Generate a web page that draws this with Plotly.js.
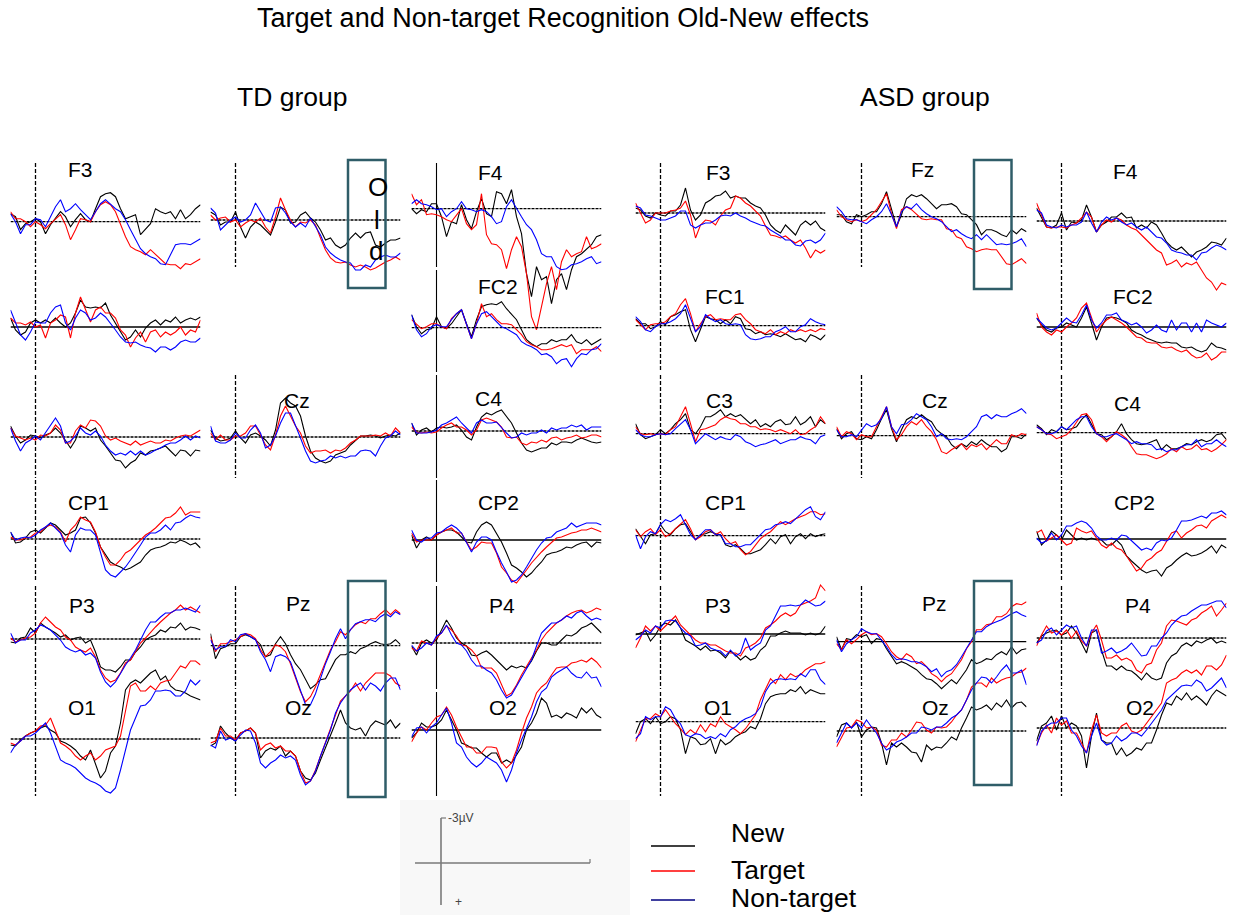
<!DOCTYPE html>
<html><head><meta charset="utf-8">
<script src="https://cdn.plot.ly/plotly-3.0.1.min.js"></script>
<style>html,body{margin:0;padding:0;background:#fff}#chart{width:1235px;height:915px}</style>
</head><body><div id="chart"></div>
<script>
// time axis (ms)
const TIMES = [-100,-80,-60,-40,-20,0,20,40,60,80,100,120,140,160,180,200,220,240,260,280,300,320,340,360,380,400,420,440,460,480,500,520,540,560,580,600,620,640,660];
const CONDITIONS = ['New','Target','Non-target'];
const COLORS = ['#000000','#ff0000','#0000ff'];

// ---------- TD group (µV, negative plotted up) ----------
const td_F3_new = [-0.8,-0.5,0.8,0.2,0,-0.3,0,1.2,0.3,-0.3,-1.0,-0.5,0.5,-0.2,-0.8,-0.2,0,-1.3,-2.5,-2.8,-2.9,-2.5,-1.3,-0.3,-0.5,-0.7,1.3,0.8,0.2,-1.3,-1.0,-0.8,-1.0,-0.3,-1.2,-0.3,-0.7,-1.3,-1.7];
const td_F3_target = [-1.0,-0.3,-0.3,0,0.5,0,0.3,0.7,0.2,-0.3,-0.7,0.3,1.8,0.8,-0.3,-0.2,0,-1.0,-1.7,-2.0,-1.7,-1.0,0.3,1.5,2.5,2.8,3.0,3.3,2.8,3.3,3.8,4.2,4.3,4.3,4.7,4.2,4.3,4.0,3.7];
const td_F3_non = [-0.8,0,1.2,0.3,0.3,-0.3,-0.2,0.5,-0.5,-1.5,-2.2,-1.0,-1.3,-1.8,-1.2,-0.7,-0.2,-1.0,-1.8,-2.2,-1.7,-1.3,-1.0,-0.2,0.8,1.7,2.7,3.2,3.5,3.7,4.2,4.3,3.3,2.3,2.2,2.2,2.3,2.0,1.7];
const td_Fz_new = [-0.8,-0.5,0.5,0.2,0.2,-0.8,0.7,1.8,0.7,0.2,0.5,1.0,1.5,0.2,-1.3,-1.0,0.3,0.2,-0.5,-0.8,-0.2,0.2,1.0,2.0,1.8,2.5,2.8,2.5,1.8,1.3,1.8,1.3,1.2,2.5,2.7,2.3,2.0,2.0,1.8];
const td_Fz_target = [-0.5,0,-0.2,-0.3,0.2,0,0.7,0.3,0,0.2,-0.2,0.7,1.3,-0.3,-2.2,-1.0,0,0.7,0.2,0.3,0,0.5,1.8,3.0,3.8,4.2,4.3,4.2,4.5,4.7,4.5,4.7,5.0,4.8,4.5,4.2,4.0,3.7,4.0];
const td_Fz_non = [-1.2,-0.7,1.0,0.5,0,-0.3,0.2,0,-0.5,-1.7,-0.8,0,0.2,-1.2,-1.3,-0.7,0.2,0.7,0.3,0.7,-0.2,0.7,1.5,2.7,3.3,3.7,4.0,4.2,4.3,5.0,5.0,4.5,4.7,4.0,3.7,3.5,3.7,3.7,3.3];
const td_F4_new = [0,0.5,0.1,0.3,-0.5,-0.5,0.8,2.8,1.3,1.5,-0.4,1.1,2.0,0.3,-1.0,0.5,0.8,-1.7,-1.5,-0.5,-1.9,0.8,2.5,6.5,8.8,5.8,7.1,6.8,9.5,7.1,6.5,8.1,6.1,4.8,4.5,4.0,3.6,2.8,2.6];
const td_F4_target = [-1.5,-0.4,-0.9,0.6,0.5,0.6,0.8,1.1,1.3,0.6,0,1.5,2.1,1.6,-1.5,2.6,3.5,3.6,4.1,6.0,4.1,2.8,3.8,6.5,10.8,12.1,9.8,7.5,5.8,8.1,5.3,4.1,4.8,4.5,4.3,2.8,4.0,3.8,3.5];
const td_F4_non = [-0.5,-0.9,-0.5,-0.4,-0.2,0.1,0,0.8,0.3,0,-0.7,0,0.1,0.3,0.1,0.3,0.8,1.5,1.3,-0.2,-0.9,0,0.8,1.6,2.1,3.1,4.5,4.8,4.8,5.8,6.1,6.0,5.6,5.5,5.3,5.0,4.8,5.5,5.3];
const td_FC1_new = [-0.9,0.3,0.8,0.5,-0.4,-0.7,-0.4,-0.7,-0.4,-0.9,-0.4,0,-0.4,-1.4,-2.7,-2.0,-1.9,-2.0,-1.9,-2.4,-1.2,-0.4,0.5,1.3,1.0,0.3,1.0,0.1,-0.4,-0.7,-0.2,-0.7,-0.5,-1.0,-0.4,-0.7,-0.9,-0.7,-1.0];
const td_FC1_target = [-0.9,-0.4,-0.4,-0.2,-0.5,0,-0.2,1.1,-0.4,-0.7,-1.2,-1.0,1.1,-1.4,-3.0,-1.7,-0.5,-1.7,-2.0,-1.4,-1.4,-0.9,0.3,0.8,2.0,1.1,0.5,1.5,0.5,0.3,1.0,0.5,0.8,0.5,0,0.8,0.3,0.5,-0.7];
const td_FC1_non = [-1.7,-0.4,0.8,1.3,0.5,-0.5,-0.4,-0.4,-1.4,-2.0,-2.2,-0.4,0.3,-0.9,-1.7,-1.4,-0.7,-0.9,-1.4,-1.0,-0.4,0.3,1.0,1.5,1.6,1.5,1.8,2.0,2.1,2.5,2.0,2.0,2.3,2.0,1.5,1.3,1.5,1.5,1.1];
const td_FC2_new = [-1.3,-0.1,0.6,0.2,0.1,-1.1,-0.1,0.1,-0.4,-1.1,-1.8,-0.4,0.9,-0.8,-2.1,-2.3,-2.4,-2.3,-2.6,-1.9,-1.4,-0.8,0.2,1.2,1.6,1.9,1.6,1.6,1.2,1.4,1.2,1.2,0.7,1.4,1.6,1.2,1.7,1.4,1.1];
const td_FC2_target = [-0.8,-0.3,0.1,-0.1,-0.4,-0.4,-0.1,0.1,-0.9,-1.4,-1.8,-0.3,1.1,-0.4,-2.4,-1.1,-1.4,-0.8,-0.4,-0.4,-0.3,0.2,0.7,1.4,1.7,1.9,2.2,2.2,2.1,1.9,1.7,1.9,1.7,2.6,2.2,2.2,2.2,1.9,2.4];
const td_FC2_non = [-1.3,0.2,0.9,0.6,-0.1,-0.3,-0.1,-0.1,-0.8,-1.4,-1.8,-0.4,1.1,-0.4,-1.4,-1.6,-1.1,-0.6,-0.1,0.1,0.4,0.7,1.4,1.7,1.9,2.2,2.7,2.6,2.9,3.6,3.2,3.1,3.9,3.1,2.6,2.7,2.2,2.1,1.6];
const td_C3_new = [-1.1,-0.1,0.6,0.3,-0.2,-0.1,0.1,-0.2,-0.4,-0.9,-0.4,0.4,1.1,0.3,-1.1,-0.9,-0.6,-0.9,0.3,0.9,1.6,2.3,2.4,3.1,2.6,2.3,1.6,1.8,1.4,1.3,1.1,0.9,1.4,1.9,1.3,1.4,1.9,1.3,1.4];
const td_C3_target = [-0.9,-0.1,0.1,0.3,0.1,0.3,-0.2,-0.1,-0.4,-1.2,-0.7,0.6,0.6,-0.6,-1.2,-0.9,-1.7,-1.6,-1.1,-0.1,0.3,0.1,0.4,0.6,0.8,0.4,0.8,0.6,0.4,0.6,0.6,0.3,0.4,0.1,-0.1,-0.2,-0.1,-0.4,-0.7];
const td_C3_non = [-0.9,0.4,1.4,0.6,0.3,-0.1,0.3,-0.4,-1.1,-1.9,-1.1,0.6,0.4,-0.1,-0.9,-0.4,-0.2,-0.6,-0.1,0.8,1.4,1.8,1.6,1.8,1.4,1.8,1.4,1.8,1.6,1.3,1.1,0.8,0.6,0.6,0.3,-0.1,0.3,-0.1,0.1];
const td_Cz_new = [-0.7,0.1,0.4,0.3,0.1,-0.6,0.1,0.6,-0.2,-0.4,-0.1,0.3,0.9,-0.7,-3.4,-3.9,-3.4,-3.1,-2.1,-0.1,1.4,2.1,2.4,2.6,2.4,1.8,1.6,1.4,0.8,0.3,-0.1,-0.1,-0.2,-0.1,0.1,-0.1,-0.2,-0.1,-0.4];
const td_Cz_target = [-0.4,0.3,-0.2,0.3,0.3,-0.1,-0.1,-0.4,-1.1,-1.1,-0.2,0.8,1.3,-0.2,-2.1,-3.1,-2.1,-1.1,-0.4,0.9,1.6,1.4,1.4,1.3,1.6,1.3,1.4,1.1,0.6,0.3,-0.1,-0.1,-0.1,-0.2,-0.1,-0.4,-0.1,-0.9,-0.4];
const td_Cz_non = [-1.1,0.4,0.6,0.6,0.3,-0.4,0.1,0.1,-0.7,-1.2,-0.4,1.1,0.8,-0.1,-1.4,-2.4,-2.4,-1.2,0.1,1.4,2.4,2.6,2.4,2.3,1.9,2.1,1.9,2.1,1.9,1.9,1.4,1.3,1.4,1.9,0.9,0.1,-0.1,-0.6,-0.2];
const td_C4_new = [-0.8,0.4,-0.1,-0.3,0.1,-0.3,-0.4,-0.3,-0.4,-0.6,-0.1,0.6,0.9,-0.4,-1.4,-1.8,-1.6,-1.9,-2.1,-1.4,-0.8,0.2,1.2,1.9,2.1,1.9,1.7,1.7,1.2,1.4,1.1,1.1,1.2,0.9,0.7,0.9,1.1,1.2,1.1];
const td_C4_target = [-0.4,0.1,0.2,0.1,0.2,0.1,-0.3,-0.6,-0.8,-0.4,-0.4,-0.1,0.4,-0.1,-1.1,-1.3,-1.1,-0.9,-0.4,0.6,0.7,0.6,1.2,1.4,1.1,1.2,0.9,1.1,0.7,0.6,0.9,0.7,0.6,0.4,0.7,0.6,0.4,0.4,0.6];
const td_C4_non = [-0.8,0.2,0.2,0.2,0.1,-0.1,-0.6,-0.8,-1.1,-1.4,-0.8,-0.3,0.2,-0.8,-1.1,-0.8,-0.8,-0.9,-0.3,0.2,0.7,0.6,0.2,0.4,0.2,0.2,-0.1,0.2,-0.3,-0.1,-0.3,-0.3,-0.6,-0.4,-0.6,-0.1,-0.4,-0.4,-0.4];
const td_CP1_new = [-0.7,0.4,0.3,-0.1,-0.7,-0.9,-0.6,-1.1,-1.6,-1.4,-0.9,-0.4,-0.6,-0.9,-2.1,-2.2,-1.6,-0.6,0.8,1.6,2.3,2.6,2.8,3.1,2.9,2.6,2.3,1.6,1.1,0.9,0.8,0.6,0.3,0.4,0.1,0.3,0.6,0.4,0.9];
const td_CP1_target = [-0.2,0.1,0.1,-0.1,-0.2,-0.6,-0.7,-1.2,-1.4,-1.2,-0.7,0.3,-0.9,-1.4,-2.2,-1.9,-1.7,-0.7,0.8,1.8,2.6,2.6,2.1,1.4,1.1,0.6,0.1,-0.4,-0.7,-1.1,-1.6,-2.1,-2.2,-2.6,-3.2,-2.4,-2.7,-2.7,-2.7];
const td_CP1_non = [-0.7,0.1,-0.1,-0.2,-0.1,-0.4,-0.9,-1.2,-1.6,-1.1,-0.6,0.6,1.3,-0.4,-1.1,-0.9,-0.9,-0.4,1.4,3.1,3.6,3.8,3.3,2.8,2.1,1.4,0.6,-0.2,-0.6,-0.6,-0.9,-1.4,-0.9,-1.6,-1.7,-2.1,-2.4,-2.2,-2.1];
const td_CP2_new = [-0.5,0.8,0,-0.3,0,-0.5,-0.8,-1.0,-1.0,-0.8,-0.3,0.2,0.3,-0.8,-1.5,-1.8,-1.5,-0.7,0.2,1.3,2.5,2.8,3.2,3.7,3.3,2.7,2.2,1.5,1.3,1.2,1.0,0.7,0.8,0.5,0.3,0.2,0.7,0.2,0.3];
const td_CP2_target = [-0.7,0.2,0,0,0,-0.5,-0.8,-1.0,-1.2,-0.7,-0.7,0.2,1.0,0.7,0.2,0.3,0.3,1.3,2.7,3.3,4.0,4.3,3.7,3.0,2.3,1.7,1.2,0.7,0.2,-0.2,-0.3,-0.5,-0.7,-0.8,-1.0,-1.0,-1.2,-1.0,-0.8];
const td_CP2_non = [-1.0,0,0.2,-0.2,-0.2,-0.7,-0.8,-1.2,-1.5,-1.2,-0.7,0.2,1.2,0.2,-0.3,-0.3,0,1.2,2.3,3.2,4.2,4.0,3.5,2.7,1.8,1.0,0.3,-0.2,-0.3,-0.8,-1.0,-1.2,-1.7,-1.3,-1.5,-1.7,-1.7,-1.7,-1.5];
const td_P3_new = [0.3,0.4,-0.1,-0.2,-1.1,-0.6,-1.6,-1.2,-0.9,-0.6,-0.2,-0.4,0.1,-0.1,-0.2,0.4,0.1,1.3,2.8,3.1,3.1,3.3,2.8,2.1,2.1,1.3,0.8,0.1,-0.2,-0.4,-0.9,-0.7,-1.2,-1.1,-1.6,-0.9,-1.2,-1.1,-0.9];
const td_P3_target = [-0.1,0.3,0.1,-0.1,-0.2,-0.6,-1.6,-2.2,-1.7,-1.2,-0.9,-0.2,0.1,0.8,1.1,1.3,0.9,1.8,3.1,3.9,4.3,4.1,3.4,2.4,2.1,1.3,0.4,-0.1,-0.7,-1.2,-1.7,-2.2,-2.6,-2.9,-3.4,-2.9,-3.2,-2.9,-2.6];
const td_P3_non = [-0.6,0.4,0.1,0.1,-0.6,-0.9,-1.4,-1.2,-0.9,-0.4,0.1,0.8,1.1,1.3,1.1,1.6,1.4,1.9,3.3,4.3,4.8,4.3,3.4,2.6,1.9,1.1,0.1,-0.9,-1.7,-1.7,-2.2,-2.6,-2.6,-2.9,-2.9,-3.1,-2.9,-2.7,-3.4];
const td_Pz_new = [-1.2,1.3,0.3,0.1,-0.2,-0.2,-0.9,-1.1,-0.9,-0.6,-0.1,1.1,0.9,-0.2,-0.9,-0.2,0.9,1.8,2.4,3.4,4.3,3.9,3.4,3.3,2.4,1.4,0.9,0.9,0.6,0.8,0.3,0.1,-0.2,-0.4,-0.2,-0.1,-0.2,-0.6,-0.1];
const td_Pz_target = [-0.9,0.6,-0.2,-0.2,-0.4,-0.6,-0.9,-1.2,-1.1,-0.7,0.4,1.1,0.6,-0.1,0.1,0.6,1.8,3.1,4.6,5.6,5.1,4.1,2.8,1.6,0.4,-0.4,-1.4,-1.1,-1.6,-2.1,-2.4,-2.2,-2.7,-2.7,-3.2,-3.6,-3.1,-3.6,-3.2];
const td_Pz_non = [-0.6,0.4,0.1,0.1,-0.6,-0.4,-1.1,-1.2,-0.9,-0.6,0.6,1.4,2.6,1.1,0.9,1.1,1.6,3.1,4.6,5.9,5.9,4.8,3.3,1.8,0.6,-0.7,-1.7,-0.7,-1.6,-2.2,-2.4,-2.6,-2.6,-2.4,-2.9,-3.2,-2.9,-3.4,-3.1];
const td_P4_new = [0.3,1.2,0,-0.3,0,-0.3,-1.3,-2.3,-1.5,-0.5,0,0.3,1.2,1.3,1.0,0.8,1.2,1.7,2.3,2.7,2.3,2.5,2.3,2.5,1.8,0.8,0,0,0.2,0.2,-0.3,-0.8,-0.7,-1.0,-1.5,-1.7,-2.0,-1.5,-1.0];
const td_P4_target = [0.5,0.8,-0.2,0,0.2,-0.5,-1.0,-1.7,-1.3,-0.7,0.2,0.3,0.7,1.3,2.5,2.5,2.5,3.0,4.2,5.3,5.0,4.2,3.2,2.3,1.5,0.7,-0.3,-1.0,-1.5,-2.0,-2.3,-2.7,-3.0,-3.2,-3.3,-3.0,-3.2,-3.5,-3.3];
const td_P4_non = [0.2,0.8,0.5,0,0.2,-0.7,-1.0,-1.8,-0.8,0,0.2,0.8,1.7,2.3,2.3,2.7,3.0,3.7,4.7,5.5,5.2,4.3,3.5,2.5,1.7,0.3,-1.0,-1.5,-2.0,-2.0,-2.3,-2.7,-2.5,-3.0,-3.2,-2.7,-2.3,-2.5,-2.3];
const td_O1_new = [0.6,0.7,0.1,-0.3,-0.6,-0.8,-1.1,-1.3,-0.9,-0.6,0.2,0.4,0.7,1.1,1.7,2.1,1.1,2.4,3.9,3.2,1.4,0.7,-1.6,-4.9,-5.6,-5.9,-5.6,-6.1,-6.6,-6.9,-5.9,-6.3,-5.3,-4.9,-4.8,-4.6,-4.3,-4.1,-3.9];
const td_O1_target = [0.4,0.6,0.2,-0.3,-0.6,-0.8,-1.3,-1.4,-2.1,-0.9,0.4,0.7,1.1,1.7,2.1,1.7,1.4,2.1,1.7,1.1,0.9,0.7,-0.3,-2.9,-5.3,-5.6,-4.8,-4.8,-5.3,-4.9,-5.6,-5.8,-5.9,-6.6,-7.3,-7.1,-7.8,-7.8,-7.4];
const td_O1_non = [1.4,0.6,0.2,-0.3,-0.3,-0.6,-1.1,-1.6,-0.6,0.7,2.1,2.4,2.6,2.9,3.4,3.9,4.2,4.4,4.7,5.2,5.4,4.9,3.1,1.1,-0.9,-2.1,-3.3,-3.4,-3.9,-4.8,-4.8,-4.9,-4.8,-4.3,-4.3,-4.8,-5.9,-5.4,-5.9];
const td_Oz_new = [0.8,0.5,-1.2,-0.5,0,0.3,-0.5,-0.7,-1.0,-0.5,2.0,1.3,1.0,1.2,0.8,1.8,1.3,1.8,3.3,4.0,4.2,3.5,2.2,1.0,-0.2,-1.5,-2.8,-1.5,-1.0,-0.8,-1.0,-0.2,-1.2,-1.7,-1.5,-1.3,-1.8,-1.0,-1.5];
const td_Oz_target = [0.5,0.3,-1.0,-0.2,-0.2,0.2,-0.5,-0.7,-1.0,-0.5,1.2,0.7,0.5,1.0,0.8,1.3,1.3,1.8,3.3,4.5,4.3,3.2,1.8,0.5,-1.0,-2.3,-3.7,-4.2,-4.7,-5.5,-4.7,-5.5,-6.0,-6.5,-6.5,-6.5,-6.2,-5.5,-5.2];
const td_Oz_non = [0.7,1.0,-0.7,0.2,0,0.3,-0.3,-0.8,-0.7,0.5,2.5,3.0,2.5,2.2,1.7,2.0,1.8,2.2,3.7,4.7,4.3,3.3,1.8,0.5,-0.8,-2.5,-3.5,-4.2,-4.8,-5.2,-5.5,-4.8,-5.5,-5.2,-4.7,-5.5,-6.0,-6.0,-4.8];
const td_O2_new = [0.8,0.3,-0.7,-0.3,-0.3,-0.5,-1.0,-2.0,-1.0,0,1.3,1.5,1.8,1.8,2.3,2.7,2.3,2.3,3.3,3.0,3.3,2.5,1.7,0,-0.7,-1.7,-3.2,-2.7,-1.3,-1.5,-1.2,-1.7,-1.5,-1.2,-2.2,-1.7,-2.2,-1.5,-1.2];
const td_O2_target = [1.2,0.3,-0.3,0,-0.7,-1.3,-1.5,-2.3,-1.5,-0.3,0.7,1.7,1.7,2.3,2.3,1.7,1.7,1.8,3.2,3.8,3.3,2.0,0.3,-1.2,-2.3,-3.7,-4.3,-4.7,-5.5,-6.2,-6.3,-6.3,-6.7,-6.8,-7.0,-6.8,-7.2,-6.8,-6.2];
const td_O2_non = [0.7,-0.2,-0.3,0.3,-0.3,-0.7,-1.5,-2.2,-0.7,1.3,1.7,2.7,3.3,3.7,3.3,2.7,3.0,3.3,4.0,5.2,4.0,2.3,1.0,-0.2,-1.3,-2.8,-3.8,-4.2,-5.3,-5.7,-6.0,-6.3,-5.7,-5.3,-5.2,-5.8,-5.2,-5.3,-4.3];

// ---------- ASD group ----------
const asd_F3_new = [-0.5,-0.3,0.3,0.5,0,0.2,0.3,-0.2,-0.2,-0.8,-2.5,-0.3,0.7,0.2,-1.0,-1.3,-1.7,-1.8,-2.2,-1.5,-1.7,-1.5,-1.5,-1.0,-0.7,-0.5,0.2,1.2,1.7,2.0,1.2,1.7,2.2,1.2,0.8,1.2,0.8,1.5,1.8];
const asd_F3_target = [-1.0,0,1.0,0.7,0,0,0,-0.2,-0.3,-0.5,-1.2,0.2,2.5,1.2,0.7,0.8,1.2,0.3,-0.3,-0.5,-1.7,-1.5,-1.0,-0.7,-0.2,0.3,1.3,2.2,2.3,2.5,2.3,2.7,3.0,2.7,3.5,4.5,3.7,4.0,3.7];
const asd_F3_non = [-0.7,-0.5,0.2,0.3,0.5,0.7,0.7,0.5,0.3,-0.2,-0.2,1.2,1.5,1.2,1.0,1.0,0.7,0.3,0.2,0.3,0,0.3,0.5,0.8,1.0,1.2,1.3,1.7,2.0,2.3,2.7,2.7,3.2,3.3,2.8,2.7,3.0,2.7,2.0];
const asd_Fz_new = [-0.2,-0.2,0.5,0.7,-0.2,0,-0.2,-0.5,-0.5,-1.3,-2.5,-0.7,1.0,-0.2,-1.8,-2.2,-2.0,-2.2,-1.8,-1.3,-0.8,-1.2,-1.2,-1.3,-1.0,-0.3,-0.2,0.3,0.8,1.8,1.3,1.3,1.5,1.8,2.0,1.3,1.7,1.2,1.5];
const asd_Fz_target = [-0.7,0,0.3,0.5,0.3,0.5,0.3,-0.2,-0.7,-1.5,-2.3,-0.3,1.2,-0.7,-1.0,-0.7,-0.2,0.2,0.3,0.2,0.3,0.3,1.2,1.3,2.0,2.2,3.0,3.2,3.5,3.3,3.2,3.3,3.3,4.0,4.7,4.8,4.5,4.2,4.7];
const asd_Fz_non = [-1.0,-0.5,0.2,0.3,0.3,0.5,0.7,0.3,0,-0.5,-1.3,-0.2,1.0,-0.5,-1.0,-0.8,-1.3,-0.7,-0.3,0,0.2,0.5,1.0,1.5,1.3,1.7,2.0,2.2,1.8,2.3,1.8,2.3,2.8,2.7,2.8,2.7,2.5,2.2,3.0];
const asd_F4_new = [-1.3,-0.3,0.6,0.7,0.4,-0.8,0.9,0.1,0.2,-0.1,-1.6,-0.4,1.1,0.4,0.1,-0.4,-0.4,-0.8,-0.3,-0.4,0.7,0.4,0.7,0.1,0.4,1.2,2.1,2.6,2.9,2.6,3.1,3.6,3.1,2.9,2.6,2.1,2.2,2.4,1.7];
const asd_F4_target = [-1.8,-0.6,0.6,0.7,0.6,0.6,0.7,0.4,0.2,-0.3,-0.9,-0.4,1.1,0.4,-0.1,0.1,-0.3,-0.1,0.4,0.7,0.9,1.4,1.9,2.4,2.9,3.2,4.4,4.2,3.9,4.6,4.2,4.4,4.1,4.9,5.7,6.1,6.9,6.2,6.4];
const asd_F4_non = [-1.1,-0.8,0.4,0.6,0.7,0.4,0.6,0.4,0.4,0.1,-0.9,0.2,1.1,0.1,-0.4,-0.1,-0.3,0.1,0.4,0.2,0.6,0.9,0.6,1.1,1.6,1.7,2.2,2.9,3.1,3.2,3.4,3.4,3.9,3.2,3.1,2.7,2.4,2.6,2.9];
const asd_FC1_new = [-0.7,-0.2,-0.2,0.3,0.1,-0.4,-0.1,-0.9,-1.1,-1.4,-1.6,0.4,1.6,0.4,-0.9,-0.7,-0.6,-0.2,-0.6,-0.2,-0.9,-0.7,0.3,0.4,0.8,0.6,0.9,0.8,0.9,1.1,0.8,1.1,1.4,1.3,1.6,0.9,1.1,1.4,0.9];
const asd_FC1_target = [-0.6,-0.1,0.4,-0.1,-0.2,-0.2,-0.4,-0.9,-1.2,-2.1,-2.7,-1.2,0.6,-0.2,-0.9,-1.1,-0.6,-0.7,-0.6,-0.6,-1.1,-1.2,-0.6,-0.2,0.4,0.6,0.8,0.4,0.9,0.6,0.8,0.4,0.6,0.4,0.6,0.4,0.6,0.3,0.4];
const asd_FC1_non = [-0.9,-0.4,0.4,0.6,0.1,-0.2,-0.2,-0.4,-0.7,-1.2,-2.1,-0.7,0.6,0.1,-1.1,-0.7,-0.4,-0.6,-0.2,-0.1,-0.2,-0.1,0.9,1.3,1.4,1.3,1.1,1.1,0.6,0.4,0.1,0.6,0.6,0.1,-0.1,-0.7,-0.4,-0.2,-0.1];
const asd_FC2_new = [-0.9,-0.2,0.3,0.5,0.1,0,-0.4,-0.2,0,-0.9,-2.0,-0.4,1.3,0,-0.9,-1.0,-0.9,-0.7,-0.4,0.3,0.6,0.8,1.1,1.3,1.5,1.6,1.5,1.6,1.6,2.0,2.1,2.0,2.3,2.5,2.3,1.6,2.0,2.1,2.3];
const asd_FC2_target = [-1.4,0,0.5,0.8,0.3,0.5,0,-0.4,-0.9,-1.9,-2.4,-0.9,0.5,-0.2,-0.7,-1.0,-0.7,-0.4,0,0.5,1.0,1.1,1.5,1.6,1.6,2.0,2.1,2.0,2.3,2.5,2.3,2.8,3.1,3.0,2.6,3.3,3.0,2.5,2.5];
const asd_FC2_non = [-0.9,-0.4,0.1,0.3,0.1,-0.4,-0.9,-0.5,-0.4,-1.2,-2.2,-0.7,0.1,-0.4,-1.2,-1.2,-1.4,-0.7,-0.5,-0.2,-0.4,0,0.6,0.3,-0.2,0.3,0.5,-0.7,0.3,-0.4,-0.4,0.5,-0.4,0.5,-0.7,-0.4,-0.2,0,-0.4];
const asd_C3_new = [-1.0,0.1,0.5,0.3,0.1,-0.4,0,-0.4,-1.0,-1.4,-2.0,-0.4,0,-0.7,-1.7,-1.7,-2.0,-2.4,-1.7,-2.0,-1.7,-1.9,-1.4,-1.0,-1.4,-0.7,-1.0,-0.7,-1.2,-1.4,-0.9,-1.0,-1.7,-0.9,-1.2,-1.7,-0.7,-1.4,-1.0];
const asd_C3_target = [-0.7,0,0.1,0,0.1,0,0.1,-0.4,-0.7,-1.7,-2.7,-1.0,0.8,-0.4,-0.5,-0.7,-0.9,-1.4,-1.7,-1.5,-1.4,-1.0,-1.0,-0.7,-0.7,-0.4,-0.5,-0.4,-0.2,-0.4,-0.2,0,-0.4,0.1,0,-0.4,-0.7,-1.7,-1.0];
const asd_C3_non = [-0.4,0.1,0.3,0.3,0.1,0,0.1,0,-0.5,-1.0,-1.4,-0.4,1.0,0.5,0,0.3,0.6,0.3,0.5,0.6,0.1,0.3,0.8,1.0,1.3,1.1,1.0,0.8,0.6,1.0,0.8,0.6,0.6,0.3,0.5,0.6,1.0,0.3,0.1];
const asd_Cz_new = [-0.7,0.3,-0.2,-0.4,0.3,0.4,0.1,0.3,-0.6,-1.7,-2.6,-0.7,0.6,-0.6,-1.6,-1.9,-1.7,-2.1,-1.7,-1.4,-0.6,-0.2,0.1,0.9,1.3,0.8,1.1,0.6,0.9,0.4,0.8,1.1,1.1,1.6,1.3,0.1,0.1,0.3,-0.2];
const asd_Cz_target = [-0.9,0.1,-0.4,-0.2,0.4,-0.1,0.1,0.1,-0.9,-1.9,-2.9,-0.9,0.4,-0.1,-0.9,-1.4,-1.1,-1.6,-0.9,-0.4,0.4,1.6,1.8,1.4,1.1,0.8,1.4,0.9,1.1,0.8,1.4,0.9,0.4,0.8,0.8,-0.1,0.1,-0.2,-0.1];
const asd_Cz_non = [-0.6,0.1,0.1,-0.1,0.1,-0.6,-1.2,-0.9,-1.1,-1.7,-2.9,-0.9,-0.2,-1.1,-1.2,-1.6,-2.2,-1.9,-1.6,-0.9,0.1,-0.2,0.3,0.4,0.3,0.4,0.1,-0.4,-0.9,-1.9,-2.1,-1.7,-2.1,-1.9,-1.9,-2.2,-2.4,-2.7,-2.2];
const asd_C4_new = [-0.8,-0.4,0.2,-0.3,-0.1,-0.6,-0.3,-0.4,-0.6,-1.3,-1.8,-0.8,0.1,0.2,0.7,0.4,-0.1,-0.9,0.1,0.7,1.1,1.2,1.1,0.9,0.7,1.7,1.2,1.6,1.6,1.4,1.1,1.2,0.9,0.7,0.9,0.7,0.2,0.1,0.7];
const asd_C4_target = [-0.6,-0.3,0.1,0.2,0.6,0.4,0.2,-0.3,-1.1,-1.8,-1.9,-1.3,0.1,0.4,0.9,0.4,-0.1,0.2,0.6,1.4,2.1,2.2,2.2,2.4,2.6,2.4,2.1,1.6,1.9,1.4,1.7,1.6,1.2,1.7,1.6,1.9,1.6,1.2,0.7];
const asd_C4_non = [-0.6,-0.3,0.1,0.1,-0.1,-0.6,-0.3,-0.8,-1.3,-1.6,-1.6,-0.6,0.1,0.4,0.4,0.2,0.1,0.4,0.7,1.1,0.9,1.1,1.1,1.2,1.7,1.6,1.9,1.7,1.7,1.4,1.2,1.2,0.7,1.4,1.1,1.1,0.7,1.1,1.4];
const asd_CP1_new = [-0.7,0.1,0.8,-0.1,-0.2,-1.1,-0.4,-0.1,-0.7,-1.1,-1.2,-0.4,0.4,-0.1,-0.2,-0.4,-0.2,-0.1,0.9,1.1,0.9,1.3,1.8,1.8,1.6,1.4,0.9,0.3,0.8,0.1,-0.1,0.8,0.1,-0.2,0.3,-0.2,0.1,-0.1,-0.2];
const asd_CP1_target = [-0.6,0.1,-0.4,-0.7,-0.1,-0.6,0.1,-0.2,-0.7,-1.2,-1.6,-0.7,0.4,0.1,-0.4,-0.6,-0.1,-0.4,0.3,0.8,0.6,1.4,1.9,1.6,0.9,0.3,-0.1,-0.4,-0.9,-1.4,-1.1,-1.4,-1.7,-1.9,-2.1,-2.4,-2.4,-2.1,-2.2];
const asd_CP1_non = [-0.1,1.3,0.1,-0.4,-0.2,-1.1,-1.6,-1.4,-1.7,-2.1,-1.1,-0.1,0.4,-0.1,-0.6,-0.6,-0.1,-0.1,0.8,0.8,1.1,1.1,0.9,0.9,0.4,-0.1,-0.6,-0.7,-1.1,-1.2,-1.4,-1.2,-1.7,-2.2,-2.6,-2.9,-1.9,-1.6,-2.4];
const asd_CP2_new = [-0.8,0.6,0.1,-0.8,-0.4,0.1,-0.9,-0.4,0.1,-0.1,0.1,-0.1,0.1,0.1,0.6,0.6,0.1,0.6,1.7,2.2,2.7,3.1,3.4,3.2,3.1,3.7,2.9,2.6,2.1,1.7,1.4,1.7,1.6,1.4,1.1,0.7,1.4,0.6,0.9];
const asd_CP2_target = [-0.6,-0.9,0.2,-0.1,-0.4,0.1,0.6,0.4,-1.1,-0.8,-0.6,-0.8,-0.1,0.6,0.9,0.4,0.9,1.1,1.7,2.4,3.2,2.9,2.2,1.9,1.4,1.1,0.2,-0.6,-0.8,-0.1,-0.6,-0.9,-1.3,-1.4,-1.1,-1.8,-2.1,-2.4,-2.1];
const asd_CP2_non = [-0.1,0.4,0.2,-0.6,0.1,-0.4,-1.3,-1.3,-1.6,-1.8,-1.6,-1.1,-0.3,0.1,0.1,-0.1,0.1,-0.4,-0.3,0.2,0.6,1.1,0.9,1.1,0.4,0.1,0.2,-0.1,-0.9,-1.8,-1.8,-1.9,-2.1,-2.3,-2.1,-2.6,-2.6,-2.8,-2.4];
const asd_P3_new = [0.1,-0.1,-0.3,0.7,0.1,-0.8,-1.1,-0.9,-1.4,-0.6,0.6,0.9,1.2,1.6,1.2,1.7,1.6,1.9,2.4,1.7,2.1,2.6,2.2,2.6,2.4,1.6,1.2,0.2,0.2,-0.1,-0.3,-0.1,-0.1,-0.1,0.1,-0.1,0.1,-0.1,-0.8];
const asd_P3_target = [1.4,0.4,-0.8,-0.3,-0.8,-0.3,-0.8,-1.3,-1.8,-0.9,-0.4,0.2,0.6,0.9,0.9,1.1,1.1,1.4,1.7,1.9,1.9,2.2,1.4,1.2,0.9,0.4,-0.6,-0.9,-1.3,-1.8,-2.1,-1.8,-2.1,-2.9,-3.1,-3.3,-3.6,-4.9,-4.3];
const asd_P3_non = [0.6,0.2,-0.4,-0.1,-0.8,-0.6,-1.3,-1.4,-1.3,-0.6,-0.1,0.2,1.2,1.1,0.9,1.4,1.6,1.7,2.2,1.6,2.2,1.9,0.4,1.6,1.2,0.9,-0.4,-0.8,-1.8,-2.8,-2.8,-2.9,-2.8,-2.9,-3.4,-3.1,-2.8,-2.9,-3.3];
const asd_Pz_new = [-0.5,0.8,-0.3,-0.2,-0.7,-0.5,-0.7,0.2,-0.3,-0.2,0.7,1.5,2.2,2.0,2.2,2.5,2.8,3.3,3.7,3.8,4.2,4.7,4.2,3.8,4.2,3.5,2.8,1.8,2.2,2.0,1.7,1.8,1.3,1.0,1.3,0.5,1.2,0.8,0.7];
const asd_Pz_target = [0.2,0.8,-0.2,0.2,-0.2,-0.7,-1.0,-0.7,-0.8,-0.5,0.2,1.0,1.5,1.8,1.2,1.5,2.2,2.0,2.5,3.2,3.5,4.0,3.5,3.2,2.5,1.8,0.7,0,-1.2,-1.2,-1.7,-1.8,-2.5,-2.5,-2.8,-3.5,-3.8,-3.7,-4.0];
const asd_Pz_non = [-0.2,1.0,0.2,-0.2,-0.5,-1.3,-1.0,-0.8,-0.8,-0.2,0.5,1.3,1.8,1.7,1.8,2.0,2.0,2.2,2.5,3.0,2.7,3.5,3.0,2.8,2.3,1.5,0.7,-0.2,-1.0,-1.0,-1.5,-1.8,-2.0,-2.2,-2.5,-2.8,-3.0,-2.7,-2.5];
const asd_P4_new = [0.5,-0.2,-0.5,-0.7,-0.8,-0.3,-0.5,-1.2,-0.5,0.5,1.5,-0.5,-0.8,1.2,2.8,2.8,3.2,2.8,3.2,3.3,3.7,4.2,3.5,4.0,4.2,4.0,2.5,1.8,1.5,0.8,0.5,0.8,0.3,0.5,0.2,0,0.5,0.3,0.5];
const asd_P4_target = [0.8,-0.3,-1.2,-0.5,-0.7,-0.3,-0.8,0,-0.7,0.3,0.8,-0.5,-1.3,0.2,2.0,2.0,1.7,2.2,2.0,2.3,3.2,3.5,2.7,2.5,1.2,0.5,-1.2,-1.8,-1.7,-1.5,-1.3,-1.8,-2.0,-2.5,-2.8,-3.2,-2.2,-2.8,-3.5];
const asd_P4_non = [0.5,0.2,-0.7,-1.0,-0.3,-0.8,-1.3,-1.0,-1.2,0,0.8,-0.8,-0.8,1.5,1.3,1.0,1.5,1.3,1.0,0.5,1.2,1.8,1.7,0.8,0.8,0,-0.5,-1.3,-1.8,-2.2,-2.3,-2.7,-3.0,-3.3,-3.3,-3.5,-3.7,-3.7,-3.0];
const asd_O1_new = [1.2,0,-0.3,0.2,-0.5,0.2,0,-0.5,-0.3,0.8,3.2,1.5,1.7,2.3,2.2,1.7,3.2,1.8,2.3,2.0,1.5,1.2,1.0,0.5,0.7,-0.3,-1.8,-2.5,-2.7,-2.8,-2.8,-3.2,-3.0,-3.5,-2.8,-3.2,-3.0,-2.8,-2.8];
const asd_O1_target = [2.0,0.8,-0.3,-0.3,-0.8,-0.5,-1.2,-0.5,0.2,0.7,1.3,0.8,1.2,0.3,1.0,0.2,0.5,-0.5,0.2,0.5,0.8,1.2,0.7,0,-0.7,-2.2,-3.3,-4.3,-3.8,-4.7,-4.2,-4.8,-4.5,-4.7,-5.2,-5.5,-5.8,-5.8,-6.0];
const asd_O1_non = [1.7,1.2,-0.5,-0.2,-0.5,-0.5,-1.5,-1.2,-0.3,0.2,1.3,1.5,1.2,1.3,1.7,1.5,1.7,1.2,1.5,0.8,0.5,0,-0.3,-0.5,-0.8,-1.5,-3.0,-3.8,-4.2,-4.3,-4.2,-4.3,-4.2,-4.8,-4.5,-5.2,-5.2,-4.2,-3.7];
const asd_Oz_new = [0.6,-0.6,-0.8,-0.3,-0.9,0.6,-0.1,-0.4,-0.3,1.2,3.4,1.2,1.6,1.2,1.6,2.1,2.2,3.1,1.4,1.9,1.6,1.7,1.2,0.6,0.9,-0.3,-1.3,-2.4,-2.1,-2.3,-2.6,-2.1,-2.8,-2.4,-3.1,-2.3,-2.8,-2.9,-2.4];
const asd_Oz_target = [1.6,0.6,-0.3,-0.4,-1.1,-0.9,-0.3,-0.4,-0.1,1.4,1.6,0.9,0.9,0.2,0.6,-0.1,-0.9,-0.8,-0.1,0.2,-0.4,-0.3,-0.4,-0.9,-1.6,-2.1,-3.1,-4.4,-4.8,-4.8,-4.4,-5.3,-4.8,-5.1,-5.3,-5.4,-5.8,-5.9,-6.3];
const asd_Oz_non = [1.2,0.2,-0.8,-0.3,-0.8,-0.3,-1.1,-0.4,0.2,1.2,1.9,1.6,1.1,0.9,0.6,0.2,0.2,-0.4,-0.3,-0.1,-0.4,-0.4,-0.8,-1.3,-1.6,-2.1,-3.1,-4.1,-4.8,-5.4,-5.3,-4.8,-5.4,-6.1,-6.6,-5.8,-5.8,-6.1,-4.6];
const asd_O2_new = [1.3,-0.2,-0.5,-1.2,0.2,-1.2,0,-0.5,-0.2,0.8,4.0,0.8,-1.5,1.2,1.5,1.5,2.7,2.0,2.8,2.5,2.0,2.2,1.5,1.5,0.2,-1.3,-2.5,-2.3,-3.2,-2.8,-3.5,-2.8,-3.2,-2.8,-2.3,-3.2,-3.8,-3.5,-3.2];
const asd_O2_target = [1.7,0.5,-0.3,0.5,-1.0,-0.3,-0.7,0.5,0.5,1.5,2.5,0.2,-1.3,0.5,0.8,0.5,0.5,-0.2,-0.5,0.3,0.5,0.2,-0.5,-1.2,-1.8,-2.5,-4.5,-4.8,-5.0,-5.5,-5.8,-5.5,-5.8,-5.3,-6.2,-6.2,-5.8,-6.3,-7.3];
const asd_O2_non = [1.8,0.3,-0.2,-0.5,-0.5,-1.0,-1.0,0.2,0.8,1.8,2.5,0.8,-0.5,1.2,1.7,1.5,0.8,1.3,1.0,0.5,0.5,0.8,0.2,-0.5,-1.2,-1.8,-2.8,-3.3,-3.7,-4.2,-4.3,-4.2,-4.8,-4.5,-3.7,-4.0,-4.5,-5.0,-4.0];

// ---------- layout geometry (pixels) ----------
const W = 1235, H = 915;
const fx = px => px / W, fy = py => 1 - py / H;
const T_MIN = -100, T_MAX = 660;
const COL_ONSET = [35.5, 235.5, 436.5, 660.5, 861.5, 1061.5];
const COL_VSOLID = [false, false, true, false, false, false];
const ROWS = [[163,267],[270,372],[375,478],[480,582],[586,689],[692,796]];
const HALF = 130; // px above/below baseline, 10 px per µV

const PANELS = [
  {ch:'F3', lab:true,  col:0,row:0,base:221.7,lx:80, ly:170,hs:false,d:[td_F3_new,td_F3_target,td_F3_non]},
  {ch:'Fz', lab:false, col:1,row:0,base:220,  lx:0,  ly:0,  hs:false,d:[td_Fz_new,td_Fz_target,td_Fz_non]},
  {ch:'F4', lab:true,  col:2,row:0,base:208.7,lx:490,ly:172,hs:false,d:[td_F4_new,td_F4_target,td_F4_non]},
  {ch:'FC1',lab:false, col:0,row:1,base:327,  lx:0,  ly:0,  hs:true, d:[td_FC1_new,td_FC1_target,td_FC1_non]},
  {ch:'FC2',lab:true,  col:2,row:1,base:327.7,lx:498,ly:287,hs:false,d:[td_FC2_new,td_FC2_target,td_FC2_non]},
  {ch:'C3', lab:false, col:0,row:2,base:437,  lx:0,  ly:0,  hs:false,d:[td_C3_new,td_C3_target,td_C3_non]},
  {ch:'Cz', lab:true,  col:1,row:2,base:437,  lx:297,ly:400,hs:false,d:[td_Cz_new,td_Cz_target,td_Cz_non]},
  {ch:'C4', lab:true,  col:2,row:2,base:431,  lx:488,ly:398,hs:false,d:[td_C4_new,td_C4_target,td_C4_non]},
  {ch:'CP1',lab:true,  col:0,row:3,base:539,  lx:88, ly:502,hs:false,d:[td_CP1_new,td_CP1_target,td_CP1_non]},
  {ch:'CP2',lab:true,  col:2,row:3,base:540,  lx:498,ly:502,hs:true, d:[td_CP2_new,td_CP2_target,td_CP2_non]},
  {ch:'P3', lab:true,  col:0,row:4,base:639,  lx:82, ly:605,hs:false,d:[td_P3_new,td_P3_target,td_P3_non]},
  {ch:'Pz', lab:true,  col:1,row:4,base:645.7,lx:298,ly:603,hs:false,d:[td_Pz_new,td_Pz_target,td_Pz_non]},
  {ch:'P4', lab:true,  col:2,row:4,base:643,  lx:502,ly:605,hs:false,d:[td_P4_new,td_P4_target,td_P4_non]},
  {ch:'O1', lab:true,  col:0,row:5,base:739,  lx:82, ly:707,hs:false,d:[td_O1_new,td_O1_target,td_O1_non]},
  {ch:'Oz', lab:true,  col:1,row:5,base:738,  lx:298,ly:707,hs:false,d:[td_Oz_new,td_Oz_target,td_Oz_non]},
  {ch:'O2', lab:true,  col:2,row:5,base:730,  lx:503,ly:707,hs:true, d:[td_O2_new,td_O2_target,td_O2_non]},
  {ch:'F3', lab:true,  col:3,row:0,base:213,  lx:718,ly:172,hs:false,d:[asd_F3_new,asd_F3_target,asd_F3_non]},
  {ch:'Fz', lab:true,  col:4,row:0,base:216.7,lx:922,ly:170,hs:false,d:[asd_Fz_new,asd_Fz_target,asd_Fz_non]},
  {ch:'F4', lab:true,  col:5,row:0,base:221,  lx:1125,ly:171,hs:false,d:[asd_F4_new,asd_F4_target,asd_F4_non]},
  {ch:'FC1',lab:true,  col:3,row:1,base:325.7,lx:725,ly:297,hs:false,d:[asd_FC1_new,asd_FC1_target,asd_FC1_non]},
  {ch:'FC2',lab:true,  col:5,row:1,base:327,  lx:1133,ly:297,hs:true, d:[asd_FC2_new,asd_FC2_target,asd_FC2_non]},
  {ch:'C3', lab:true,  col:3,row:2,base:433.7,lx:720,ly:400,hs:false,d:[asd_C3_new,asd_C3_target,asd_C3_non]},
  {ch:'Cz', lab:true,  col:4,row:2,base:435.7,lx:935,ly:400,hs:false,d:[asd_Cz_new,asd_Cz_target,asd_Cz_non]},
  {ch:'C4', lab:true,  col:5,row:2,base:432.7,lx:1127,ly:403,hs:false,d:[asd_C4_new,asd_C4_target,asd_C4_non]},
  {ch:'CP1',lab:true,  col:3,row:3,base:535.7,lx:725,ly:502,hs:false,d:[asd_CP1_new,asd_CP1_target,asd_CP1_non]},
  {ch:'CP2',lab:true,  col:5,row:3,base:539,  lx:1134,ly:502,hs:true, d:[asd_CP2_new,asd_CP2_target,asd_CP2_non]},
  {ch:'P3', lab:true,  col:3,row:4,base:634,  lx:718,ly:605,hs:true, d:[asd_P3_new,asd_P3_target,asd_P3_non]},
  {ch:'Pz', lab:true,  col:4,row:4,base:641.7,lx:934,ly:603,hs:true, d:[asd_Pz_new,asd_Pz_target,asd_Pz_non]},
  {ch:'P4', lab:true,  col:5,row:4,base:638,  lx:1138,ly:605,hs:false,d:[asd_P4_new,asd_P4_target,asd_P4_non]},
  {ch:'O1', lab:true,  col:3,row:5,base:721.7,lx:718,ly:707,hs:false,d:[asd_O1_new,asd_O1_target,asd_O1_non]},
  {ch:'Oz', lab:true,  col:4,row:5,base:731,  lx:935,ly:707,hs:false,d:[asd_Oz_new,asd_Oz_target,asd_Oz_non]},
  {ch:'O2', lab:true,  col:5,row:5,base:728,  lx:1140,ly:707,hs:false,d:[asd_O2_new,asd_O2_target,asd_O2_non]}
];

const FONT = 'Liberation Sans, Arial, Helvetica, sans-serif';
const traces = [], shapes = [], annotations = [];
const layout = {
  width: W, height: H, margin: {l:0, r:0, t:0, b:0},
  paper_bgcolor: '#ffffff', plot_bgcolor: 'rgba(0,0,0,0)', showlegend: false,
  font: {family: FONT, color: '#000'},
  title: {text: 'Target and Non-target Recognition Old-New effects', font: {family: FONT, size: 27, color: '#000'},
          x: 563 / W, xanchor: 'center', xref: 'paper', y: 1 - 18 / H, yanchor: 'middle', yref: 'container'}
};

const axisId = i => (i === 0 ? '' : String(i + 1));
PANELS.forEach((p, i) => {
  const s = axisId(i);
  const on = COL_ONSET[p.col];
  layout['xaxis' + s] = {domain: [fx(on - 25), fx(on + 165)], range: [T_MIN, T_MAX], visible: false, fixedrange: true, anchor: 'y' + s};
  layout['yaxis' + s] = {domain: [fy(p.base + HALF), fy(p.base - HALF)], range: [13, -13], visible: false, fixedrange: true, anchor: 'x' + s};
  p.d.forEach((arr, k) => traces.push({
    type: 'scatter', mode: 'lines', name: CONDITIONS[k], x: TIMES.slice(0, arr.length), y: arr,
    xaxis: 'x' + s, yaxis: 'y' + s, line: {color: COLORS[k], width: 1.1}, hoverinfo: 'skip'
  }));
  shapes.push({type: 'line', xref: 'x' + s, yref: 'y' + s, x0: T_MIN, x1: T_MAX, y0: 0, y1: 0, layer: 'below',
               line: {color: '#000', width: 1.3, dash: p.hs ? 'solid' : '3px,1px'}});
  const rb = ROWS[p.row];
  shapes.push({type: 'line', xref: 'x' + s, yref: 'paper', x0: 0, x1: 0, y0: fy(rb[0]), y1: fy(rb[1]), layer: 'below',
               line: {color: '#000', width: COL_VSOLID[p.col] ? 1.1 : 1.3, dash: COL_VSOLID[p.col] ? 'solid' : '4px,2px'}});
  if (p.lab) annotations.push({text: p.ch, xref: 'paper', yref: 'paper', x: fx(p.lx), y: fy(p.ly), showarrow: false,
                               xanchor: 'center', yanchor: 'middle', font: {family: FONT, size: 21, color: '#000'}});
});

// highlighted 450-600 ms windows
const BOX_COLOR = '#2f5d68';
function boxFor(panelIdx, pyTop, pyBot) {
  const s = axisId(panelIdx);
  shapes.push({type: 'rect', xref: 'x' + s, yref: 'paper', x0: 450, x1: 600, y0: fy(pyBot), y1: fy(pyTop),
               line: {color: BOX_COLOR, width: 2.5}, fillcolor: 'rgba(0,0,0,0)', layer: 'above'});
}
boxFor(1, 160, 288);    // TD Fz
boxFor(11, 581, 797);   // TD Pz/Oz
boxFor(17, 160, 289);   // ASD Fz
boxFor(27, 581, 785);   // ASD Pz/Oz

// "Old" label inside the TD box
[['O', 378, 187], ['l', 377, 220], ['d', 376, 251]].forEach(([t, x, y]) =>
  annotations.push({text: t, xref: 'paper', yref: 'paper', x: fx(x), y: fy(y), showarrow: false,
                    xanchor: 'center', yanchor: 'middle', font: {family: FONT, size: 26, color: '#000'}}));

// group titles
[['TD group', 292, 97], ['ASD group', 925, 97]].forEach(([t, x, y]) =>
  annotations.push({text: t, xref: 'paper', yref: 'paper', x: fx(x), y: fy(y), showarrow: false,
                    xanchor: 'center', yanchor: 'middle', font: {family: FONT, size: 26.5, color: '#000'}}));

// legend
const LEG = [['New', '#000000', 846, 833], ['Target', '#ff0000', 871, 870], ['Non-target', '#000080', 900, 898]];
LEG.forEach(([t, c, ly, ty]) => {
  shapes.push({type: 'line', xref: 'paper', yref: 'paper', x0: fx(651), x1: fx(695), y0: fy(ly), y1: fy(ly), line: {color: c, width: 1.5}});
  annotations.push({text: t, xref: 'paper', yref: 'paper', x: fx(729), y: fy(ty), showarrow: false,
                    xanchor: 'left', yanchor: 'middle', font: {family: FONT, size: 26.5, color: '#000'}});
});

// calibration inset
shapes.push({type: 'rect', xref: 'paper', yref: 'paper', x0: fx(400), x1: fx(630), y0: fy(915), y1: fy(800),
             fillcolor: '#f8f8f8', line: {width: 0}, layer: 'below'});
const GRAY = '#7a7a7a';
shapes.push({type: 'line', xref: 'paper', yref: 'paper', x0: fx(441), x1: fx(441), y0: fy(818), y1: fy(905), line: {color: GRAY, width: 1.6}});
shapes.push({type: 'line', xref: 'paper', yref: 'paper', x0: fx(415), x1: fx(590), y0: fy(863), y1: fy(863), line: {color: GRAY, width: 1.6}});
shapes.push({type: 'line', xref: 'paper', yref: 'paper', x0: fx(441), x1: fx(446), y0: fy(818), y1: fy(818), line: {color: GRAY, width: 1.2}});
shapes.push({type: 'line', xref: 'paper', yref: 'paper', x0: fx(590), x1: fx(590), y0: fy(859), y1: fy(863), line: {color: GRAY, width: 1.2}});
annotations.push({text: '-3µV', xref: 'paper', yref: 'paper', x: fx(446), y: fy(818), showarrow: false,
                  xanchor: 'left', yanchor: 'middle', font: {family: FONT, size: 12, color: '#444'}});
annotations.push({text: '+', xref: 'paper', yref: 'paper', x: fx(458), y: fy(902), showarrow: false,
                  xanchor: 'center', yanchor: 'middle', font: {family: FONT, size: 12, color: '#444'}});

layout.shapes = shapes;
layout.annotations = annotations;
Plotly.newPlot('chart', traces, layout, {staticPlot: true, displayModeBar: false});
</script>
</body></html>
